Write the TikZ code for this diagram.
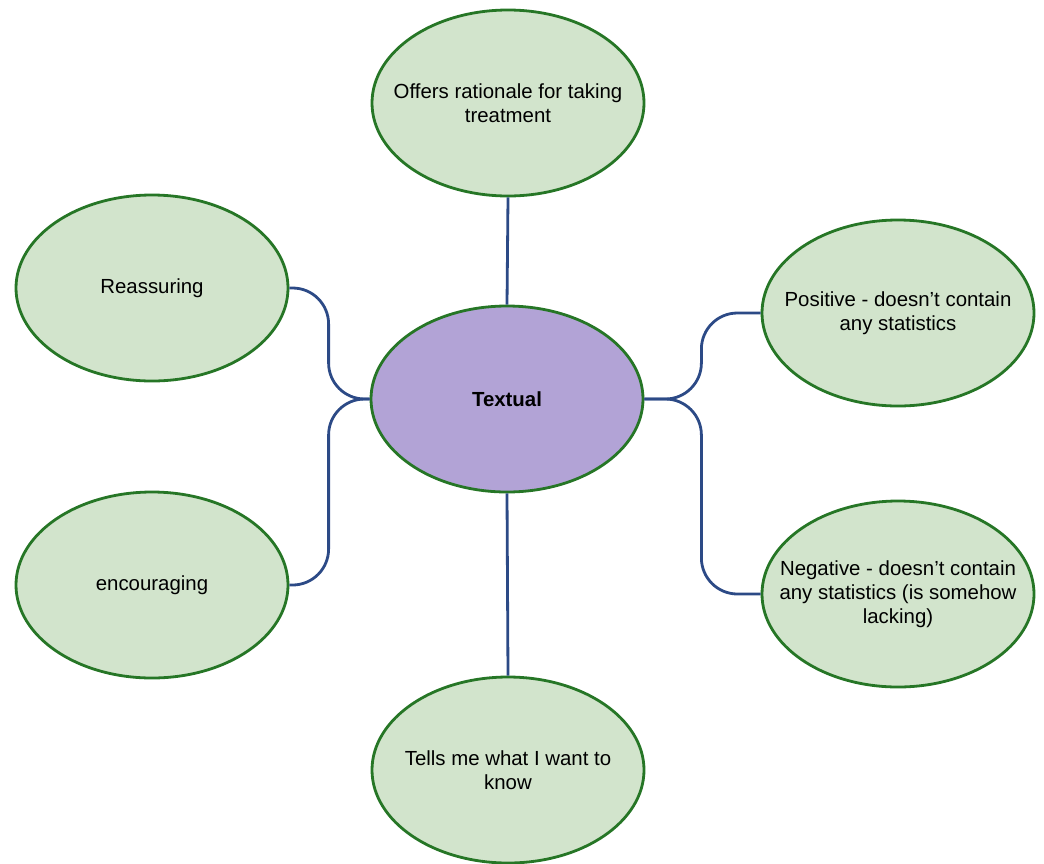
\documentclass[tikz,border=0pt]{standalone}
\usepackage{fontspec}
\setmainfont{Liberation Sans}
\usetikzlibrary{shapes.geometric}

\definecolor{leafgreen}{RGB}{210,228,204}
\definecolor{rimgreen}{RGB}{38,118,38}
\definecolor{hubpurple}{RGB}{178,163,214}
\definecolor{linkblue}{RGB}{44,74,134}

\begin{document}
\begin{tikzpicture}[
		x=0.5pt,y=-0.5pt,
		every node/.style={font=\fontsize{10.2}{12}\selectfont},
		idea/.style={ellipse, draw=rimgreen, line width=1.4pt, fill=leafgreen,
			minimum width=136pt, minimum height=93pt, inner xsep=-15pt, inner ysep=0pt, align=center},
		hub/.style={idea, fill=hubpurple, font=\fontsize{10.2}{12}\selectfont\bfseries},
		link/.style={draw=linkblue, line width=1.4pt, rounded corners=18pt}
		]
		
		\useasboundingbox (0,0) rectangle (1044,863);
		
		% =========================
		% centre and the six ideas
		% =========================
		\node[hub] (textual) at (507,399) {Textual};
		
		\node[idea] (rationale) at (508,103) {Offers rationale for taking\\treatment};
		\node[idea] (reassure) at (152,288) {Reassuring};
		\node[idea] (encourage) at (152,585) {encouraging};
		\node[idea] (positive) at (898,313) {Positive - doesn't contain\\any statistics};
		\node[idea] (negative) at (898,594) {Negative - doesn't contain\\any statistics (is somehow\\lacking)};
		\node[idea] (tells) at (508,770) {Tells me what I want to\\know};
		
		% =========================
		% links
		% =========================
		\draw[link] (textual.north) -- (rationale.south);
		\draw[link] (textual.south) -- (tells.north);
		
		\draw[link] (textual.west) -- ++(-41,0) |- (reassure.east);
		\draw[link] (textual.west) -- ++(-41,0) |- (encourage.east);
		\draw[link] (textual.east) -- ++(57,0) |- (positive.west);
		\draw[link] (textual.east) -- ++(57,0) |- (negative.west);
		
	\end{tikzpicture}
\end{document}
